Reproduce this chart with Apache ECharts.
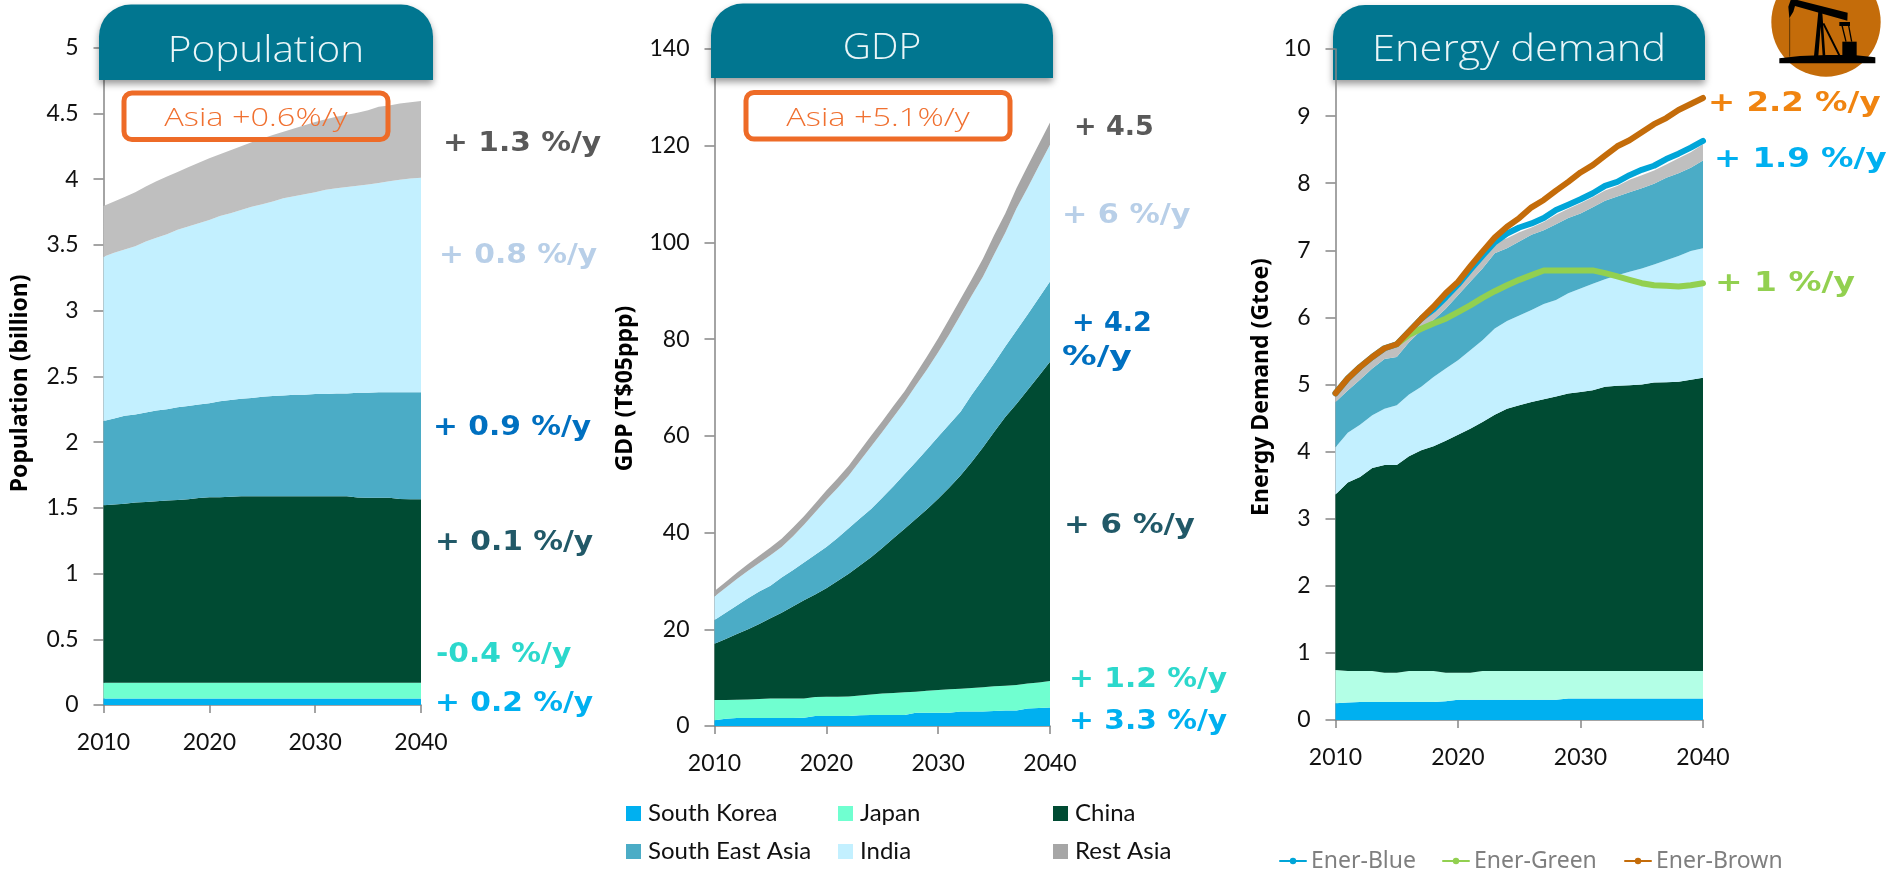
<!DOCTYPE html>
<html>
<head>
<meta charset="utf-8">
<title>Asia outlook: population, GDP and energy demand</title>
<style>html,body{margin:0;padding:0;background:#fff}#chart{width:1889px;height:872px}</style>
<script src="https://cdn.jsdelivr.net/npm/echarts@6/dist/echarts.min.js"></script>
</head>
<body>
<div id="chart"></div>
<script>
// Years shared by the three panels
const years = [2010,2011,2012,2013,2014,2015,2016,2017,2018,2019,2020,2021,2022,2023,2024,2025,2026,2027,2028,2029,2030,2031,2032,2033,2034,2035,2036,2037,2038,2039,2040];

// Population, billion
const popKorea = [.05,.05,.05,.05,.05,.05,.05,.05,.05,.05,.05,.05,.05,.05,.05,.05,.05,.05,.05,.05,.05,.05,.05,.05,.05,.05,.05,.05,.05,.05,.05];
const popJapan = [.12,.12,.12,.12,.12,.12,.12,.12,.12,.12,.12,.12,.12,.12,.12,.12,.12,.12,.12,.12,.12,.12,.12,.12,.12,.12,.12,.12,.12,.12,.12];
const popChina = [1.35,1.355,1.36,1.37,1.375,1.38,1.385,1.39,1.395,1.405,1.41,1.41,1.415,1.417,1.417,1.417,1.417,1.417,1.417,1.417,1.417,1.417,1.417,1.417,1.408,1.407,1.407,1.407,1.397,1.395,1.395];
const popSea = [.64,.655,.67,.67,.68,.69,.695,.705,.71,.71,.716,.73,.735,.743,.748,.758,.763,.768,.773,.773,.778,.778,.783,.783,.797,.798,.803,.803,.813,.815,.815];
const popIndia = [1.25,1.26,1.265,1.28,1.30,1.315,1.33,1.35,1.365,1.38,1.394,1.41,1.42,1.435,1.455,1.465,1.48,1.50,1.51,1.525,1.535,1.555,1.56,1.57,1.575,1.585,1.59,1.605,1.615,1.625,1.63];
const popRest = [.385,.39,.40,.41,.42,.43,.44,.44,.45,.46,.47,.47,.48,.485,.49,.50,.505,.505,.515,.525,.535,.535,.545,.55,.555,.565,.58,.575,.58,.58,.585];

// GDP, T$05ppp
const gdpKorea = [1.2,1.5,1.65,1.65,1.65,1.65,1.65,1.65,1.7,2.05,2.05,2.05,2.05,2.2,2.3,2.3,2.3,2.3,2.75,2.75,2.75,2.75,3,3,3,3.1,3.2,3.2,3.6,3.7,3.8];
const gdpJapan = [4.2,3.9,3.8,3.85,3.95,4.05,4.05,4.05,4,3.95,4,4,4.05,4.1,4.2,4.4,4.5,4.7,4.35,4.55,4.7,4.85,4.7,4.85,5,5.1,5.1,5.3,5.2,5.3,5.5];
const gdpChina = [11.6,12.6,13.55,14.5,15.5,16.6,17.7,19,20.3,21.2,22.45,23.95,25.4,26.9,28.4,30.1,32,33.8,35.7,37.5,39.55,41.7,44.1,46.75,49.6,52.6,55.6,58.1,60.7,63.4,66];
const gdpSea = [4.9,5.4,5.9,6.4,6.7,6.7,7.3,7.5,7.8,8.2,8.5,8.9,9.4,9.7,10,10.4,10.8,11.3,11.8,12.4,12.8,13.1,13.2,13.9,14.1,14.2,14.6,15.2,15.6,16.1,16.6];
const gdpIndia = [4.9,5.2,5.5,5.7,5.9,6.3,6.3,7,7.8,8.8,9.8,10.3,10.9,11.9,12.9,13.6,14.3,14.9,15.8,16.5,17.5,18.6,20,20.5,21.2,22.5,23.5,25.2,26.2,27.3,28.3];
const gdpRest = [1.1,1.2,1.3,1.4,1.5,1.6,1.7,1.8,1.8,1.8,1.9,2,2,2.1,2.2,2.2,2.3,2.2,2.4,2.7,2.9,3.2,3.3,3.4,3.7,4,4,4.2,4.5,4.5,4.6];

// Energy demand, Gtoe
const eneKorea = [.25,.26,.27,.27,.27,.27,.27,.27,.27,.28,.30,.30,.30,.30,.30,.30,.30,.30,.30,.32,.32,.32,.32,.32,.32,.32,.32,.32,.32,.32,.32];
const eneJapan = [.496,.47,.46,.46,.435,.435,.46,.46,.46,.425,.405,.405,.43,.43,.43,.43,.43,.43,.43,.41,.41,.41,.41,.41,.41,.41,.41,.41,.41,.41,.41];
const eneChina = [2.614,2.81,2.89,3.025,3.095,3.095,3.20,3.29,3.35,3.455,3.545,3.635,3.71,3.82,3.91,3.96,4.01,4.05,4.09,4.135,4.16,4.185,4.235,4.25,4.26,4.27,4.30,4.305,4.31,4.34,4.37];
const eneIndia = [.705,.74,.78,.785,.84,.89,.92,.945,1.03,1.08,1.11,1.17,1.22,1.285,1.305,1.34,1.37,1.42,1.44,1.495,1.54,1.585,1.605,1.65,1.69,1.73,1.76,1.815,1.875,1.92,1.93];
const eneSea = [.675,.63,.67,.70,.74,.72,.78,.845,.85,.89,.97,1.02,1.07,1.12,1.085,1.10,1.12,1.10,1.13,1.12,1.12,1.14,1.17,1.17,1.185,1.195,1.20,1.23,1.235,1.24,1.31];
const eneRest = [.12,.17,.18,.16,.14,.17,.13,.13,.14,.15,.15,.17,.19,.165,.15,.14,.11,.12,.14,.14,.15,.15,.15,.16,.185,.195,.20,.20,.22,.23,.24];

// Energy scenarios drawn as lines over the stack; Ener-Green branches off in 2015
const enerBlue = [4.87,5.09,5.26,5.41,5.54,5.60,5.79,5.98,6.12,6.30,6.49,6.71,6.92,7.12,7.25,7.34,7.40,7.48,7.60,7.68,7.76,7.85,7.96,8.02,8.12,8.20,8.26,8.36,8.44,8.53,8.63];
const enerGreen = [null,null,null,null,null,5.60,5.74,5.83,5.91,5.98,6.08,6.18,6.29,6.39,6.48,6.56,6.63,6.70,6.70,6.70,6.70,6.70,6.66,6.61,6.56,6.51,6.48,6.47,6.46,6.48,6.51];
const enerBrown = [4.87,5.09,5.26,5.41,5.54,5.60,5.79,5.98,6.16,6.36,6.53,6.76,6.98,7.19,7.35,7.48,7.64,7.75,7.89,8.02,8.16,8.27,8.41,8.55,8.64,8.76,8.88,8.97,9.09,9.18,9.27];

// Panel titles, growth notes and legend names
const panelTitles = ['Population', 'GDP', 'Energy demand'];
const axisNames = ['Population (billion)', 'GDP (T$05ppp)', 'Energy Demand (Gtoe)'];
const asiaNotes = ['Asia +0.6%/y', 'Asia +5.1%/y'];
const popRates = ['+ 1.3 %/y', '+ 0.8 %/y', '+ 0.9 %/y', '+ 0.1 %/y', '-0.4 %/y', '+ 0.2 %/y'];
const gdpRates = ['+ 4.5', '+ 6 %/y', '+ 4.2', '%/y', '+ 6 %/y', '+ 1.2 %/y', '+ 3.3 %/y'];
const eneRates = ['+ 2.2 %/y', '+ 1.9 %/y', '+ 1 %/y'];
const regionNames = ['South Korea', 'Japan', 'China', 'South East Asia', 'India', 'Rest Asia'];

const C = {
  korea: '#00B0F0', japan: '#70FFD0', japanPale: '#B3FFE6', china: '#004B33',
  sea: '#4BACC6', india: '#C3F0FF', rest: '#BFBFBF', restDark: '#A6A6A6',
  tab: '#017690', axis: '#868686', orange: '#EE6B27',
  grey: '#595959', pale: '#B8CFE8', royal: '#0070C0', slate: '#215968', aqua: '#2CD8CC',
  brown: '#C46C0A', blueLine: '#00A5D8', greenLine: '#92D050', amber: '#F08410'
};

const LABEL_FONT = 'Lato, sans-serif';
const BOLD_FONT = '"DejaVu Sans", sans-serif';
const THIN_FONT = '"Open Sans", sans-serif';

function xAxis(gridIndex) {
  return {
    type: 'category', gridIndex, data: years, boundaryGap: false,
    axisLine: { lineStyle: { color: C.axis, width: 1.5 } },
    axisTick: { interval: 9, length: 8, lineStyle: { color: C.axis, width: 1.5 } },
    axisLabel: { interval: 9, margin: 26, fontFamily: LABEL_FONT, fontSize: 23, color: '#111' },
    splitLine: { show: false }
  };
}
function yAxis(gridIndex, max, interval, name, gap, nudge) {
  return {
    type: 'value', gridIndex, min: 0, max, interval, name,
    nameLocation: 'middle', nameGap: gap, nameRotate: 90,
    nameTextStyle: { fontFamily: '"Noto Sans", sans-serif', fontWeight: 'bold', fontSize: 23, color: '#000', padding: [0, nudge, 0, 0] },
    axisLine: { show: true, lineStyle: { color: C.axis, width: 1.5 } },
    axisTick: { show: true, length: 10, lineStyle: { color: C.axis, width: 1.5 } },
    axisLabel: { margin: 25, fontFamily: LABEL_FONT, fontSize: 23, color: '#111' },
    splitLine: { show: false }
  };
}
function area(name, idx, data, color) {
  return {
    name, type: 'line', xAxisIndex: idx, yAxisIndex: idx, stack: 'panel' + idx, data,
    symbol: 'none', lineStyle: { width: 0 }, areaStyle: { color, opacity: 1 },
    itemStyle: { color }, z: 2, silent: true
  };
}
function scenario(name, data, color) {
  return {
    name, type: 'line', xAxisIndex: 2, yAxisIndex: 2, data,
    symbol: 'circle', symbolSize: 6, showSymbol: false,
    lineStyle: { width: 6, color, cap: 'round', join: 'round' }, itemStyle: { color }, z: 5, silent: true
  };
}

// Rounded header tab with its panel title
function tab(x0, x1, y0, y1, title, cx, cy, zOrder, sx) {
  return [
    { type: 'rect', z: zOrder, shape: { x: x0, y: y0, width: x1 - x0, height: y1 - y0, r: [32, 32, 0, 0] },
      style: { fill: C.tab, shadowBlur: 7, shadowOffsetY: 4, shadowColor: 'rgba(0,0,0,0.4)' } },
    { type: 'text', z: 20, x: cx, y: cy, scaleX: sx, style: { text: title, fill: '#EAF6F8', font: '300 36px ' + THIN_FONT, align: 'center', verticalAlign: 'middle' } }
  ];
}
function noteBox(x0, x1, y0, y1, note, cx, cy) {
  return [
    { type: 'rect', z: 20, shape: { x: x0, y: y0, width: x1 - x0, height: y1 - y0, r: 8 },
      style: { fill: 'none', stroke: C.orange, lineWidth: 5 } },
    { type: 'text', z: 21, x: cx, y: cy, scaleX: 1.3, style: { text: note, fill: '#F07030', font: '300 25px ' + THIN_FONT, align: 'center', verticalAlign: 'middle' } }
  ];
}
function rate(text, x, y, fill, sx = 1.1) {
  return { type: 'text', z: 20, x, y: y + 2.5, scaleX: sx, style: { text, fill, font: 'bold 27px ' + BOLD_FONT, align: 'left', verticalAlign: 'middle' } };
}

// Pump-jack badge, drawn in a local 3x space and scaled down
const pump = {
  type: 'group', x: 1740, y: 0, scaleX: 1 / 3, scaleY: 1 / 3, z: 15,
  children: [
    { type: 'circle', shape: { cx: 258, cy: 66, r: 164 }, style: { fill: C.brown } },
    { type: 'polygon', shape: { points: [[118,175],[180,168],[260,165],[340,165],[406,172],[406,190],[118,190]] }, style: { fill: '#000' } },
    { type: 'polygon', shape: { points: [[148,55],[145,20],[152,0],[172,0],[323,38],[322,62],[165,18],[160,35]] }, style: { fill: '#000' } },
    { type: 'polygon', shape: { points: [[222,168],[236,25],[246,25],[256,168],[248,168],[242,80],[235,168]] }, style: { fill: '#000' } },
    { type: 'line', shape: { x1: 250, y1: 70, x2: 300, y2: 170 }, style: { stroke: '#000', lineWidth: 6 } },
    { type: 'line', shape: { x1: 305, y1: 72, x2: 318, y2: 125 }, style: { stroke: '#000', lineWidth: 4 } },
    { type: 'line', shape: { x1: 325, y1: 72, x2: 335, y2: 125 }, style: { stroke: '#000', lineWidth: 4 } },
    { type: 'rect', shape: { x: 298, y: 66, width: 32, height: 12 }, style: { fill: '#000' } },
    { type: 'rect', shape: { x: 307, y: 125, width: 43, height: 46 }, style: { fill: '#000' } },
    { type: 'line', shape: { x1: 149, y1: 55, x2: 149, y2: 170 }, style: { stroke: '#2a1a00', lineWidth: 2 } }
  ]
};

const graphics = [
  ...tab(99, 433, 4.5, 80, panelTitles[0], 266, 52, 10, 1.125),
  ...tab(711, 1053, 3.5, 78, panelTitles[1], 882, 49, 10, 1.08),
  ...tab(1333, 1705, 5, 80, panelTitles[2], 1519, 51, -1, 1.157),
  ...noteBox(124, 388, 93, 139.5, asiaNotes[0], 256, 119),
  ...noteBox(746, 1010, 92.5, 139, asiaNotes[1], 878, 119),
  rate(popRates[0], 443, 141, C.grey),
  rate(popRates[1], 439, 253, C.pale),
  rate(popRates[2], 433, 425, C.royal),
  rate(popRates[3], 435, 540, C.slate),
  rate(popRates[4], 436, 652, C.aqua),
  rate(popRates[5], 435, 701, C.korea),
  rate(gdpRates[0], 1074, 125, C.grey, 1),
  rate(gdpRates[1], 1062, 213, C.pale, 1.12),
  rate(gdpRates[2], 1072, 321, C.royal, 1),
  rate(gdpRates[3], 1062, 355, C.royal, 1.28),
  rate(gdpRates[4], 1064, 523, C.slate, 1.14),
  rate(gdpRates[5], 1069, 677, C.aqua),
  rate(gdpRates[6], 1069, 719, C.korea),
  rate(eneRates[0], 1708, 101, C.amber, 1.2),
  rate(eneRates[1], 1714, 157, C.korea, 1.2),
  rate(eneRates[2], 1715, 281, C.greenLine, 1.22),
  pump
];

function swatch(name, color, left, top) {
  return {
    left, top, data: [{ name, icon: 'rect', itemStyle: { color } }], selectedMode: false,
    itemWidth: 15, itemHeight: 15, padding: 0,
    textStyle: { fontFamily: LABEL_FONT, fontSize: 24, color: '#111', padding: [0, 0, 0, 2] }
  };
}
function lineKey(name, left) {
  return {
    left, top: 849.5, data: [name], selectedMode: false,
    itemWidth: 26, itemHeight: 8, padding: 0,
    lineStyle: { width: 2 },
    textStyle: { fontFamily: '"Noto Sans", sans-serif', fontSize: 23, color: '#7F7F7F' }
  };
}

const option = {
  animation: false,
  backgroundColor: '#fff',
  grid: [
    { left: 103.5, right: 1889 - 421, top: 47.7, bottom: 872 - 705 },
    { left: 714.5, right: 1889 - 1050, top: 49, bottom: 872 - 726 },
    { left: 1335.5, right: 1889 - 1703, top: 49, bottom: 872 - 720 }
  ],
  xAxis: [xAxis(0), xAxis(1), xAxis(2)],
  yAxis: [
    yAxis(0, 5, 0.5, axisNames[0], 71.5, 14),
    yAxis(1, 140, 20, axisNames[1], 78, 2),
    yAxis(2, 10, 1, axisNames[2], 63, 5)
  ],
  legend: [
    swatch(regionNames[0], C.korea, 626, 801.5),
    swatch(regionNames[1], C.japan, 838, 801.5),
    swatch(regionNames[2], C.china, 1053, 801.5),
    swatch(regionNames[3], C.sea, 626, 839.5),
    swatch(regionNames[4], C.india, 838, 839.5),
    swatch(regionNames[5], C.restDark, 1053, 839.5),
    lineKey('Ener-Blue', 1279),
    lineKey('Ener-Green', 1442),
    lineKey('Ener-Brown', 1624)
  ],
  series: [
    area(regionNames[0], 0, popKorea, C.korea),
    area(regionNames[1], 0, popJapan, C.japan),
    area(regionNames[2], 0, popChina, C.china),
    area(regionNames[3], 0, popSea, C.sea),
    area(regionNames[4], 0, popIndia, C.india),
    area(regionNames[5], 0, popRest, C.rest),
    area(regionNames[0], 1, gdpKorea, C.korea),
    area(regionNames[1], 1, gdpJapan, C.japan),
    area(regionNames[2], 1, gdpChina, C.china),
    area(regionNames[3], 1, gdpSea, C.sea),
    area(regionNames[4], 1, gdpIndia, C.india),
    area(regionNames[5], 1, gdpRest, C.restDark),
    area(regionNames[0], 2, eneKorea, C.korea),
    area(regionNames[1], 2, eneJapan, C.japanPale),
    area(regionNames[2], 2, eneChina, C.china),
    area(regionNames[4], 2, eneIndia, C.india),
    area(regionNames[3], 2, eneSea, C.sea),
    area(regionNames[5], 2, eneRest, C.rest),
    scenario('Ener-Blue', enerBlue, C.blueLine),
    scenario('Ener-Green', enerGreen, C.greenLine),
    scenario('Ener-Brown', enerBrown, C.brown)
  ],
  graphic: graphics
};

echarts.init(document.getElementById('chart')).setOption(option);
</script>
</body>
</html>
